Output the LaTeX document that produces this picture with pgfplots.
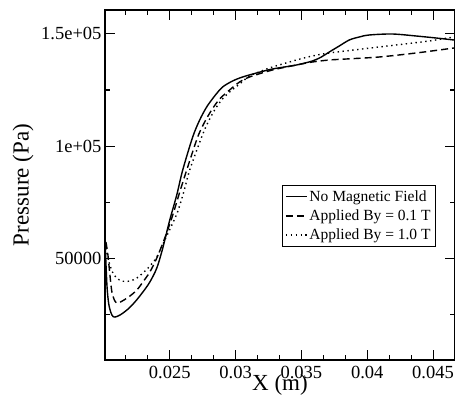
\documentclass[border=0pt]{standalone}
\usepackage{pgfplots}
\pgfplotsset{compat=1.18}
\usepackage{fontspec}
\setmainfont{Liberation Serif}
\usetikzlibrary{calc}

\begin{document}
\begin{tikzpicture}
\begin{axis}[
  scale only axis,
  width=350pt, height=350pt,
  xmin=0.02008, xmax=0.04667,
  ymin=4500, ymax=160700,
  scaled ticks=false,
  clip=false,
  axis line style={line width=1.4pt},
  tick align=inside,
  major tick length=10pt,
  minor tick length=5pt,
  xtick style={color=black, line width=1pt},
  ytick style={color=black, line width=1pt},
  xtick={0.025,0.03,0.035,0.04,0.045},
  xticklabels={0.025,0.03,0.035,0.04,0.045},
  ytick={50000,100000,150000},
  yticklabels={50000,1e+05,1.5e+05},
  minor x tick num=2,
  minor y tick num=1,
  tick label style={font=\fontsize{18.5}{18.5}\selectfont},
  xticklabel style={anchor=base, yshift=-18pt},
  xlabel={X (m)},
  ylabel={Pressure (Pa)},
  label style={font=\fontsize{23}{23}\selectfont},
  xlabel style={at={(axis description cs:0.5,0)}, anchor=base, yshift=-30pt},
  ylabel style={at={(axis description cs:-0.234,0.5)}, anchor=center},
  legend style={at={(0.946,0.5)}, anchor=north east, draw=black,
    line width=1pt, font=\fontsize{15.5}{15.5}\selectfont,
    row sep=3pt, inner sep=3pt},
  legend cell align=left,
  legend image code/.code={\draw[#1, line width=1.3pt] (0pt,0pt) -- (21pt,0pt);},
]
\addplot[black, line width=1.4pt, smooth] coordinates {
(0.020076,58928) (0.020227,37947) (0.020379,29019) (0.020606,24555)
(0.020833,23662) (0.021212,24555) (0.021742,26787) (0.022348,30358)
(0.022955,34822) (0.023485,39286) (0.024015,45536) (0.024470,54464)
(0.025000,66963) (0.025530,78123) (0.025985,89283) (0.026742,104014)
(0.027273,111603) (0.027803,117406) (0.028409,122317) (0.029015,126334)
(0.029773,129013) (0.030530,130798) (0.031591,132584) (0.032803,134370)
(0.034621,136155) (0.035833,137941) (0.036515,139726) (0.037121,141958)
(0.037879,144637) (0.038636,147315) (0.039394,148654) (0.040152,149547)
(0.041894,149994) (0.043712,149101) (0.045227,148208) (0.046591,147315)
};
\addlegendentry{No Magnetic Field}
\addplot[black, line width=1.4pt, smooth, dash pattern=on 7pt off 4pt] coordinates {
(0.020152,57142) (0.020303,51339) (0.020455,42411) (0.020606,34822)
(0.020833,30805) (0.021061,29912) (0.021515,31251) (0.021970,33037)
(0.022500,35715) (0.022955,39286) (0.023485,43750) (0.024015,50000)
(0.024621,58928) (0.025227,69195) (0.025758,79462) (0.026288,89283)
(0.027121,104014) (0.027652,110710) (0.028182,116067) (0.028788,120978)
(0.029545,124995) (0.030303,128566) (0.031061,130798) (0.032803,133923)
(0.034621,136155) (0.035833,137494) (0.037121,138387) (0.038409,138834)
(0.040909,139726) (0.043712,141512) (0.046591,143744)
};
\addlegendentry{Applied By = 0.1 T}
\addplot[black, line width=1.4pt, smooth, dash pattern=on 1.4pt off 3.5pt] coordinates {
(0.020152,54464) (0.020303,50000) (0.020455,46875) (0.020682,43304)
(0.020985,41072) (0.021364,39733) (0.021970,39733) (0.022500,41072)
(0.022955,43304) (0.023485,46429) (0.024015,50446) (0.024621,58035)
(0.025530,69642) (0.026061,79462) (0.026515,89283) (0.027424,104014)
(0.027879,110264) (0.028409,116067) (0.028939,120531) (0.029545,124102)
(0.030303,127674) (0.031061,131245) (0.031970,133477) (0.032803,135262)
(0.034621,138387) (0.035833,140173) (0.037121,141512) (0.039621,143298)
(0.042197,145083) (0.044697,146869) (0.046591,148654)
};
\addlegendentry{Applied By = 1.0 T}
% inward tick marks, both ends given in axis units
\pgfplotsinvokeforeach{0.025,0.03,0.035,0.04,0.045}{
  \draw[line width=1pt] (axis cs:#1,4500) -- (axis cs:#1,8963);
  \draw[line width=1pt] (axis cs:#1,160700) -- (axis cs:#1,156237);
}
\pgfplotsinvokeforeach{0.021667,0.023333,0.026667,0.028333,0.031667,0.033333,0.036667,0.038333,0.041667,0.043333}{
  \draw[line width=0.8pt] (axis cs:#1,4500) -- (axis cs:#1,6731);
  \draw[line width=0.8pt] (axis cs:#1,160700) -- (axis cs:#1,158469);
}
\pgfplotsinvokeforeach{50000,100000,150000}{
  \draw[line width=1pt] (axis cs:0.02008,#1) -- (axis cs:0.02084,#1);
  \draw[line width=1pt] (axis cs:0.04667,#1) -- (axis cs:0.04591,#1);
}
\pgfplotsinvokeforeach{25000,75000,125000}{
  \draw[line width=0.8pt] (axis cs:0.02008,#1) -- (axis cs:0.02046,#1);
  \draw[line width=0.8pt] (axis cs:0.04667,#1) -- (axis cs:0.04629,#1);
}
\end{axis}
\pgfresetboundingbox
\path[use as bounding box] ($(current axis.south west)+(-105pt,-40pt)$) rectangle ($(current axis.north east)+(0pt,10pt)$);
\end{tikzpicture}
\end{document}
